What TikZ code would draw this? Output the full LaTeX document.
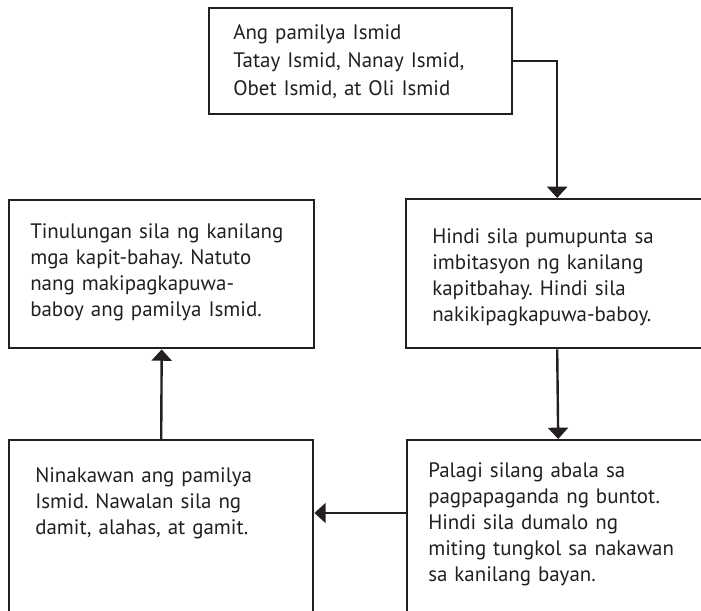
\documentclass[tikz,border=0pt]{standalone}
\usepackage{fontspec}
\setmainfont{PT Sans}
\usepackage{tikz}
\usetikzlibrary{arrows.meta}
\definecolor{tinta}{HTML}{231F20}

\begin{document}
\begin{tikzpicture}[
      x=0.75pt, y=-0.75pt,
      kahon/.style={draw=tinta, line width=1.8pt, anchor=north west, inner sep=0pt},
      teksto/.style={anchor=base west, align=left, text width=250pt, inner sep=0pt, text=tinta,
        font=\frenchspacing\fontsize{15.7}{19.5}\selectfont},
      tulis/.style={draw=tinta, line width=1.8pt, -{Triangle[width=15pt, length=8.5pt]}}
    ]
    \useasboundingbox (0,0) rectangle (701,611);
    \fill[white] (0,0) rectangle (701,611);
    \clip (0,0) rectangle (701,611);

    % mga kahon
    \node[kahon, minimum width=227.25pt, minimum height=79.5pt] (pamilya) at (208,7) {};
    \node[kahon, minimum width=226.5pt, minimum height=111.75pt] (ayaw) at (405,198) {};
    \node[kahon, minimum width=228.75pt, minimum height=111pt] (tulong) at (8,199) {};
    \node[kahon, minimum width=228pt, minimum height=150pt] (nakaw) at (8,439) {};
    \node[kahon, minimum width=226.5pt, minimum height=150pt] (abala) at (406,439) {};

    % mga teksto
    \node[teksto, font=\frenchspacing\fontsize{15.7}{21}\selectfont] (pamilya-t) at ([shift={(25,32)}]pamilya.north west)
      {Ang pamilya Ismid\\Tatay Ismid, Nanay Ismid,\\Obet Ismid, at Oli Ismid};
    \node[teksto] (ayaw-t) at ([shift={(27,45)}]ayaw.north west)
      {Hindi sila pumupunta sa\\imbitasyon ng kanilang\\kapitbahay. Hindi sila\\nakikipagkapuwa-baboy.};
    \node[teksto] (tulong-t) at ([shift={(22,39)}]tulong.north west)
      {Tinulungan sila ng kanilang\\mga kapit-bahay. Natuto\\nang makipagkapuwa-\\baboy ang pamilya Ismid.};
    \node[teksto] (nakaw-t) at ([shift={(27,43)}]nakaw.north west)
      {Ninakawan ang pamilya\\Ismid. Nawalan sila ng\\damit, alahas, at gamit.};
    \node[teksto] (abala-t) at ([shift={(22,38)}]abala.north west)
      {Palagi silang abala sa\\pagpapaganda ng buntot.\\Hindi sila dumalo ng\\miting tungkol sa nakawan\\sa kanilang bayan.};

    \draw[tulis] (pamilya.east) -| (ayaw.north);
    \draw[tulis] (ayaw.south) -- (abala.north);
    \draw[tulis] ([yshift=-55.5pt]abala.north west) -- ([yshift=-55.5pt]nakaw.north east);
    \draw[tulis] (nakaw.north) -- (tulong.south);
  \end{tikzpicture}
\end{document}
